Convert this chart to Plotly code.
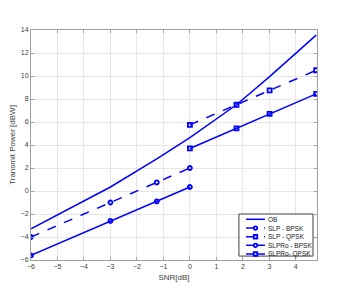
import plotly.graph_objects as go

snr_all = [-6, -3, -1.25, 0, 1.76, 3.01, 4.77]
ob = [-3.3, 0.35, 2.8, 4.65, 7.5, 9.95, 13.55]

snr_bpsk = [-6, -3, -1.25, 0]
slp_bpsk = [-4.0, -1.0, 0.75, 2.0]
slpro_bpsk = [-5.6, -2.6, -0.9, 0.35]

snr_qpsk = [0, 1.76, 3.01, 4.77]
slp_qpsk = [5.75, 7.5, 8.75, 10.5]
slpro_qpsk = [3.7, 5.45, 6.7, 8.45]

x_ticks = [-6, -5, -4, -3, -2, -1, 0, 1, 2, 3, 4]
y_ticks = [-6, -4, -2, 0, 2, 4, 6, 8, 10, 12, 14]

series_names = ["OB", "SLP - BPSK", "SLP - QPSK", "SLPRo - BPSK", "SLPRo- QPSK"]
series_dash = ["solid", "dash", "dash", "solid", "solid"]
series_symbol = [None, "circle", "square", "circle", "square"]

blue = "#0000ff"
fig = go.Figure()
data = [(snr_all, ob), (snr_bpsk, slp_bpsk), (snr_qpsk, slp_qpsk),
        (snr_bpsk, slpro_bpsk), (snr_qpsk, slpro_qpsk)]
for (xs, ys), name, dash, sym in zip(data, series_names, series_dash, series_symbol):
    if sym is None:
        fig.add_trace(go.Scatter(x=xs, y=ys, mode="lines", name=name,
                                 line=dict(color=blue, width=1.5, dash=dash)))
    else:
        fig.add_trace(go.Scatter(x=xs, y=ys, mode="lines+markers", name=name,
                                 line=dict(color=blue, width=1.5, dash=dash),
                                 marker=dict(symbol=sym + "-open", size=4, color=blue,
                                             line=dict(width=1.8))))

# custom compact legend (MATLAB-like)
shapes = [dict(type="rect", xref="x domain", yref="y domain",
               x0=0.727, x1=0.986, y0=0.017, y1=0.200,
               line=dict(color="#404040", width=1), fillcolor="white", layer="above")]
annotations = []
row_y = [0.177, 0.139, 0.101, 0.064, 0.026]
mw, mh = 3.5 / 286, 3.5 / 230
for yy, name, dash, sym in zip(row_y, series_names, series_dash, series_symbol):
    shapes.append(dict(type="line", xref="x domain", yref="y domain",
                       x0=0.752, x1=0.818, y0=yy, y1=yy,
                       line=dict(color=blue, width=1.5, dash=dash), layer="above"))
    if sym is not None:
        shapes.append(dict(type="circle" if sym == "circle" else "rect",
                           xref="x domain", yref="y domain",
                           x0=0.785 - mw / 2, x1=0.785 + mw / 2,
                           y0=yy - mh / 2, y1=yy + mh / 2,
                           line=dict(color=blue, width=1.8), fillcolor="white", layer="above"))
    annotations.append(dict(xref="x domain", yref="y domain", x=0.82, y=yy,
                            xanchor="left", yanchor="middle", showarrow=False,
                            text=name, font=dict(size=6.5, color="#202020", family="Liberation Sans")))

axis_common = dict(showline=True, mirror="ticks", linecolor="#a0a0a0", linewidth=1,
                   ticks="inside", ticklen=3, tickcolor="#a0a0a0",
                   showgrid=True, gridcolor="#e6e6e6", gridwidth=1, zeroline=False,
                   tickfont=dict(size=7, color="#404040", family="Liberation Sans"))
fig.update_xaxes(range=[-6, 4.8], tickvals=x_ticks,
                 title=dict(text="SNR[dB]", font=dict(size=8, color="#404040", family="Liberation Sans"), standoff=4),
                 **axis_common)
fig.update_yaxes(range=[-6, 14], tickvals=y_ticks,
                 title=dict(text="Transmit Power [dBW]", font=dict(size=8, color="#404040", family="Liberation Sans"), standoff=4),
                 **axis_common)
fig.update_layout(width=336, height=284, margin=dict(l=23, r=27, t=22, b=32, autoexpand=False),
                  plot_bgcolor="white", paper_bgcolor="white",
                  showlegend=False, shapes=shapes, annotations=annotations)
fig.write_html("out.html")
